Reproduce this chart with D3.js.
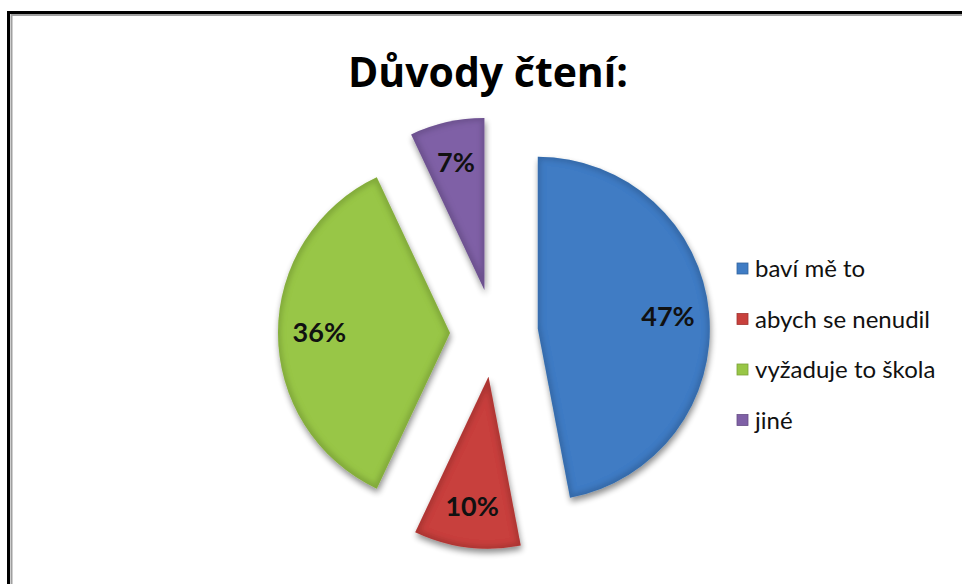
<!DOCTYPE html>
<html>
<head>
<meta charset="utf-8">
<script src="https://cdn.jsdelivr.net/npm/d3@7"></script>
<style>
  html, body { margin: 0; padding: 0; background: #fff; }
  svg { display: block; }
</style>
</head>
<body>
<svg id="chart" width="962" height="584"></svg>
<script>
const categories = ["baví mě to", "abych se nenudil", "vyžaduje to škola", "jiné"];
const values = [47, 10, 36, 7];
const labels = ["47%", "10%", "36%", "7%"];
const colors = ["#3f7cc4", "#c8403c", "#98c646", "#7f60a6"];
const titleText = "Důvody čtení:";

const svg = d3.select("#chart");
const W = 962, H = 584;

// frame
svg.append("rect").attr("x", 8.5).attr("y", 12.5).attr("width", W + 20).attr("height", H + 20)
  .attr("fill", "#fff").attr("stroke", "#000").attr("stroke-width", 3);
svg.append("rect").attr("x", 11.5).attr("y", 15).attr("width", W + 20).attr("height", H + 20)
  .attr("fill", "none").attr("stroke", "#a0a0a0").attr("stroke-width", 2);

const defs = svg.append("defs");
const f = defs.append("filter").attr("id", "shadow").attr("x", "-20%").attr("y", "-20%").attr("width", "140%").attr("height", "140%");
f.append("feGaussianBlur").attr("in", "SourceAlpha").attr("stdDeviation", 3).attr("result", "blur");
f.append("feOffset").attr("in", "blur").attr("dx", 1).attr("dy", 4).attr("result", "off");
f.append("feComponentTransfer").attr("in", "off").attr("result", "offA")
  .append("feFuncA").attr("type", "linear").attr("slope", 0.45);
const fm = f.append("feMerge");
fm.append("feMergeNode").attr("in", "offA");
fm.append("feMergeNode").attr("in", "SourceGraphic");

// inner edge bevel filter
const b = defs.append("filter").attr("id", "bevel");
b.append("feMorphology").attr("in", "SourceAlpha").attr("operator", "erode").attr("radius", 3).attr("result", "er");
b.append("feGaussianBlur").attr("in", "er").attr("stdDeviation", 2.5).attr("result", "erb");
b.append("feComposite").attr("in", "SourceAlpha").attr("in2", "erb").attr("operator", "out").attr("result", "edge");
b.append("feFlood").attr("flood-color", "#000").attr("flood-opacity", 0.28).attr("result", "dk");
b.append("feComposite").attr("in", "dk").attr("in2", "edge").attr("operator", "in").attr("result", "edgeDark");
const bm = b.append("feMerge");
bm.append("feMergeNode").attr("in", "SourceGraphic");
bm.append("feMergeNode").attr("in", "edgeDark");

// title
svg.append("text").attr("x", 488).attr("y", 87).attr("text-anchor", "middle")
  .attr("font-family", "'Open Sans', 'Noto Sans', sans-serif").attr("font-weight", 700)
  .attr("font-size", 42).attr("textLength", 280).attr("lengthAdjust", "spacingAndGlyphs")
  .attr("fill", "#000").text(titleText);

// pie
const cx = 494, cy = 333, R = 172, explode = 44;
const pie = d3.pie().sort(null).value(d => d)(values);
const arc = d3.arc().innerRadius(0).outerRadius(R);
const labelArc = d3.arc().innerRadius(R * 0.76).outerRadius(R * 0.76);

const g = svg.append("g").attr("transform", `translate(${cx},${cy})`);
const slices = g.selectAll("g.slice").data(pie).enter().append("g").attr("class", "slice")
  .attr("transform", d => {
    const a = (d.startAngle + d.endAngle) / 2;
    return `translate(${explode * Math.sin(a)},${-explode * Math.cos(a)})`;
  });

slices.append("g").attr("filter", "url(#shadow)")
  .append("path").attr("d", arc).attr("fill", (d, i) => colors[i])
  .attr("filter", "url(#bevel)");

slices.append("text")
  .attr("transform", d => `translate(${labelArc.centroid(d)})`)
  .attr("text-anchor", "middle").attr("dy", "0.35em")
  .attr("font-family", "Lato, 'Open Sans', sans-serif").attr("font-weight", 700)
  .attr("font-size", 27).attr("fill", "#111")
  .text((d, i) => labels[i]);

// legend
const lg = svg.append("g").attr("transform", "translate(737,269)");
const rows = lg.selectAll("g").data(categories).enter().append("g")
  .attr("transform", (d, i) => `translate(0,${i * 50.5})`);
rows.append("rect").attr("x", 0).attr("y", -6).attr("width", 11).attr("height", 11)
  .attr("fill", (d, i) => colors[i]).attr("stroke", (d, i) => d3.color(colors[i]).darker(0.6)).attr("stroke-width", 0.8);
rows.append("text").attr("x", 18).attr("y", 0).attr("dy", "0.35em")
  .attr("font-family", "Lato, 'Open Sans', sans-serif").attr("font-size", 24)
  .attr("fill", "#111").text(d => d);
</script>
</body>
</html>
